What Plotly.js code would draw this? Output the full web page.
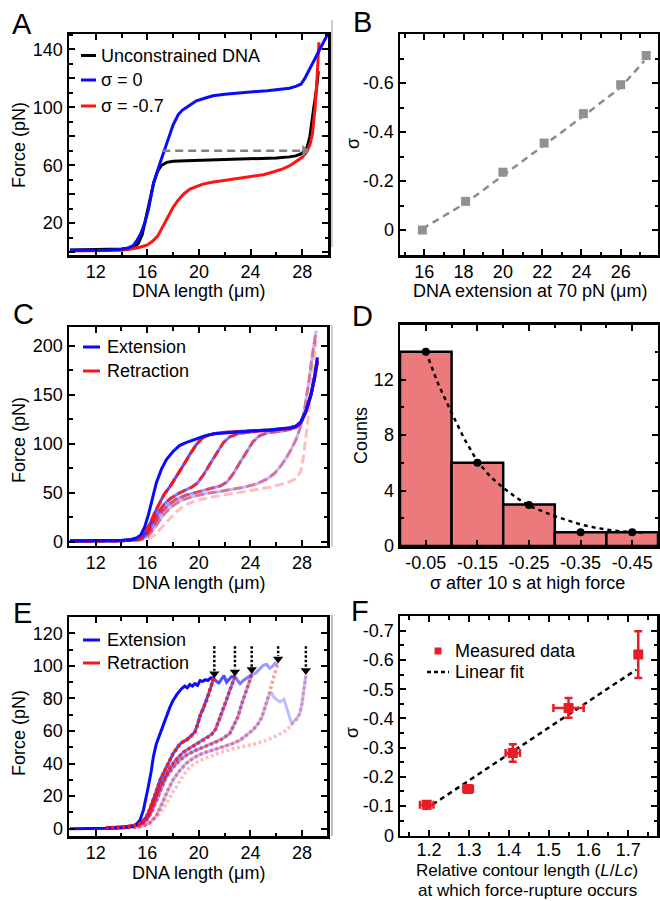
<!DOCTYPE html>
<html><head><meta charset="utf-8">
<script src="https://cdn.plot.ly/plotly-3.0.1.min.js"></script>
<style>html,body{margin:0;padding:0;background:#fff}#chart{width:660px;height:901px}</style>
</head><body><div id="chart"></div>
<script>
// ---------- Panel A data ----------
const aBlackX = [10, 11, 12, 13, 14, 14.6, 15.0, 15.3, 15.6, 15.9, 16.2, 16.5, 16.8, 17.1, 17.5, 18, 19, 20, 21, 22, 23, 24, 25, 26, 27, 27.5, 27.9, 28.2, 28.4, 28.6, 28.9, 29.1, 29.25];
const aBlackY = [1.5, 1.5, 1.8, 2, 2.2, 2.6, 3.5, 6, 12, 24, 37, 48, 56, 60, 62, 62.8, 63.2, 63.5, 63.7, 63.9, 64.1, 64.3, 64.6, 65, 65.8, 66.5, 67.8, 70, 73, 80, 100, 112, 125];
const aBlueX = [10, 11, 12, 13, 14, 14.5, 14.9, 15.2, 15.5, 15.8, 16.1, 16.47, 17, 17.5, 18.0, 18.4, 18.7, 19.2, 19.8, 20.5, 21.1, 22, 22.7, 23.5, 24.5, 25.3, 26.2, 27.0, 27.5, 27.9, 28.2, 28.6, 29.0, 29.5, 30.0];
const aBlueY = [1.2, 1.2, 1.3, 1.5, 2, 2.8, 4.5, 8, 13, 20, 30, 47.5, 62, 75, 88, 95, 98, 101, 104.5, 106.5, 108, 109, 109.7, 110.2, 111, 111.5, 112.3, 113.2, 114.5, 116, 120, 127, 134, 143, 151];
const aRedX = [10, 11, 12, 13, 14, 14.5, 15, 15.5, 16, 16.4, 16.8, 17.1, 17.4, 17.7, 18, 18.4, 18.8, 19.3, 19.8, 20.3, 21, 21.7, 22.5, 23.3, 24.2, 25, 25.8, 26.5, 27.1, 27.6, 28, 28.3, 28.6, 28.8, 29.0, 29.15, 29.3];
const aRedY = [0.8, 0.8, 0.9, 1, 1.3, 1.8, 2.5, 3.5, 5, 7.5, 11, 16, 22, 27, 31, 36, 40, 43.5, 45.5, 47, 48.3, 49.2, 50.2, 51.2, 52.3, 53.5, 55.5, 57.5, 60, 62.8, 65.5, 68.5, 74, 82, 100, 120, 145];
const aArrowX = [17.15, 27.9];
const aArrowY = [70, 70];
const aArrowHeadX = [28.2];
const aArrowHeadY = [70];

// ---------- Panel B data ----------
const bX = [15.9, 18.1, 20.0, 22.1, 24.1, 26.0, 27.3];
const bSigma = [0, -0.117, -0.236, -0.355, -0.475, -0.593, -0.712];
const bFitX = [15.9, 18.1, 20.0, 22.1, 24.1, 26.0, 27.2];
const bFitY = [-0.005, -0.11, -0.222, -0.345, -0.465, -0.582, -0.69];

// ---------- Panel C data (paths; retraction k overlaps extension k+1) ----------
const cPath1X = [10, 12, 14, 14.7, 15.2, 15.5, 15.8, 16.1, 16.4, 16.7, 17.1, 17.5, 18, 18.5, 19, 19.8, 20.5, 21.2, 22.4, 24, 25.5, 27, 27.5, 27.9, 28.3, 28.7, 29.0, 29.2];
const cPath1Y = [1, 1, 1.5, 2, 4, 7, 15, 28, 45, 60, 74, 84, 92, 98, 101, 105, 108, 110, 111.5, 113, 114, 116, 117.5, 122, 133, 150, 170, 188];
const cPath2X = [10, 12, 14, 14.8, 15.4, 15.8, 16.2, 16.6, 17, 17.3, 17.8, 18.3, 18.8, 19.3, 19.8, 20.3, 20.8, 21.5, 22.4, 24, 25.5, 27, 27.5, 27.9, 28.3, 28.7, 29.0, 29.2];
const cPath2Y = [0.5, 0.5, 1, 2, 4, 9, 18, 30, 41, 48, 57, 67, 78, 89, 99, 106, 109, 111, 112, 113, 114, 116, 117.5, 122, 133, 150, 168, 185];
const cPath3X = [10, 12, 14, 15, 15.6, 16.0, 16.4, 16.8, 17.3, 17.8, 18.4, 19, 19.5, 19.9, 20.4, 20.9, 21.4, 21.9, 22.4, 23, 24, 25.5, 27, 27.5, 27.9, 28.3, 28.7, 29.0, 29.2];
const cPath3Y = [0.5, 0.5, 1, 2, 4, 10, 19, 29, 38, 44, 49, 53, 56, 60, 69, 80, 91, 101, 107, 110, 112, 113.5, 115.5, 117, 121, 132, 150, 168, 185];
const cPath4X = [10, 12, 14, 15.2, 15.8, 16.2, 16.6, 17.1, 17.6, 18.2, 19, 20, 21, 21.7, 22.2, 22.7, 23.2, 23.7, 24.2, 24.7, 25.3, 26.5, 27.5, 27.9, 28.3, 28.7, 29.0, 29.2];
const cPath4Y = [0.5, 0.5, 1, 2, 5, 11, 20, 30, 37, 43, 47.5, 51, 54, 57, 61, 70, 81, 92, 102, 108, 111, 113, 116, 121, 132, 150, 168, 183];
const cPath5X = [10, 12, 14, 15.4, 16.0, 16.4, 16.8, 17.3, 17.9, 18.6, 19.5, 20.5, 21.5, 22.5, 23.5, 24.5, 25.3, 25.9, 26.4, 26.8, 27.2, 27.6, 27.9, 28.2, 28.5, 28.8, 29.1];
const cPath5Y = [0.5, 0.5, 1, 2, 5, 11, 19, 28, 36, 42, 46, 49, 51, 53, 55.5, 59, 64, 70, 78, 86, 95, 106, 118, 135, 160, 190, 215];
const cPath6X = [10, 12, 14, 15.5, 16.1, 16.6, 17.1, 17.6, 18.2, 18.9, 19.8, 21, 22.5, 24, 25.5, 26.5, 27.2, 27.6, 27.9, 28.1, 28.3, 28.5, 28.7, 28.9, 29.1];
const cPath6Y = [0.5, 0.5, 0.8, 1.5, 3, 7, 14, 22, 30, 37, 42, 45.5, 49, 52, 55.5, 59, 62, 65, 72, 85, 105, 128, 152, 180, 205];

// ---------- Panel D data ----------
const dSigma = [-0.05, -0.15, -0.25, -0.35, -0.45];
const dLabels = ['-0.05', '-0.15', '-0.25', '-0.35', '-0.45'];
const dCounts = [14, 6, 3, 1, 1];
const dPointY = [14, 6, 2.95, 1.0, 1.0];
const dFitX = [-0.05, -0.075, -0.1, -0.125, -0.15, -0.175, -0.2, -0.225, -0.25, -0.275, -0.3, -0.325, -0.35, -0.375, -0.4, -0.425, -0.45, -0.47];
const dFitY = [14, 11.6, 9.6, 7.7, 6.1, 5.0, 4.2, 3.5, 2.9, 2.5, 2.15, 1.85, 1.55, 1.35, 1.18, 1.07, 1.0, 0.97];

// ---------- Panel E data ----------
const eExt1X = [10, 11, 12, 13, 14, 14.5, 14.9, 15.2, 15.44, 15.7, 15.9, 16.08, 16.3, 16.47, 16.7, 16.99, 17.25, 17.5, 17.75, 18.0, 18.3, 18.67, 18.9, 19.1, 19.3, 19.5, 19.7, 19.9, 20.1, 20.3, 20.5, 20.7, 20.9, 21.15];
const eExt1Y = [0, 0, 0, 0.2, 0.5, 0.9, 1.5, 3, 5.3, 11.4, 18, 25.7, 35, 44, 52, 58.4, 64.5, 69.6, 74.5, 78.8, 82.5, 86, 87.5, 86.5, 88.5, 87.5, 89, 88, 91, 90.5, 91.5, 91, 92.5, 92.5];
const eRet1X = [21.15, 20.9, 20.6, 20.35, 20.1, 19.9, 19.7, 19.4, 19.05, 18.8, 18.54, 18.3, 18.0, 17.75, 17.5, 17.25, 17.0, 16.75, 16.47, 16.2, 15.95, 15.7, 15.44, 15.0, 14.4, 13.6, 12.8];
const eRet1Y = [92.5, 86, 79, 74, 69.5, 64, 59.5, 57, 54.5, 53.5, 52, 49.5, 46, 42, 38, 34, 30, 24, 17.6, 12, 7.5, 5, 3.3, 2, 1.2, 0.7, 0.4];
const eRet2X = [22.8, 22.6, 22.4, 22.15, 21.9, 21.6, 21.3, 21.0, 20.6, 20.2, 19.8, 19.3, 18.8, 18.3, 17.8, 17.4, 17.0, 16.75, 16.5, 16.3, 16.1, 15.85, 15.6, 15.2, 14.6, 13.8, 12.8];
const eRet2Y = [93.5, 89, 85, 79, 73, 67, 61, 58, 55.5, 53.8, 52, 49.5, 47, 43, 38, 32, 26, 21, 16, 12, 8, 5.5, 3.5, 2.2, 1.3, 0.7, 0.4];
const eRet3X = [24.1, 23.85, 23.6, 23.3, 23.05, 22.7, 22.4, 21.9, 21.4, 20.6, 19.8, 19.1, 18.5, 18.0, 17.5, 17.2, 16.9, 16.65, 16.4, 16.15, 15.9, 15.5, 15.0, 14.3, 13.5, 12.8];
const eRet3Y = [94.5, 89, 83, 76, 69, 63, 58.5, 55.5, 53.4, 50.8, 48.3, 45.5, 42, 37.5, 32, 27, 21, 16, 11, 7.5, 4.5, 2.8, 1.6, 0.9, 0.5, 0.3];
const eRet4X = [26.1, 25.95, 25.8, 25.6, 25.4, 25.15, 24.9, 24.6, 24.2, 23.7, 23.2, 22.6, 21.9, 21.1, 20.3, 19.6, 19.0, 18.5, 18.0, 17.6, 17.3, 17.0, 16.7, 16.4, 16.1, 15.7, 15.3, 14.6, 13.7, 12.8];
const eRet4Y = [100.5, 97, 93, 87, 81, 75, 68.7, 64.5, 60.6, 57.3, 54.4, 52.2, 50.3, 48.3, 46.3, 43.5, 40, 35.5, 30, 24, 18, 13, 8, 5.2, 3, 1.8, 1, 0.6, 0.4, 0.2];
const eRet5X = [28.3, 28.2, 28.1, 27.97, 27.7, 27.3, 26.8, 26.0, 25.26, 24.3, 23.5, 22.67, 21.4, 20.7, 20.1, 19.7, 19.3, 18.9, 18.54, 18.25, 18.0, 17.75, 17.5, 17.25, 17.0, 16.6, 16.2, 15.7, 15.0, 14.0, 12.8];
const eRet5Y = [94, 88, 82, 74.7, 68, 64.5, 60.4, 57, 54.3, 52, 50.5, 49.2, 46, 44, 42, 40, 38, 34, 28.8, 25.5, 22.7, 19, 15.5, 12.5, 9.4, 6, 3.3, 1.8, 0.9, 0.4, 0.2];
const eTail2X = [21.35, 21.55, 21.75, 21.95, 22.15, 22.35, 22.55, 22.8];
const eTail2Y = [90.5, 89.5, 92, 94, 90, 91.5, 93.5, 93.5];
const eTail3X = [23.0, 23.2, 23.45, 23.7, 23.9, 24.1];
const eTail3Y = [91, 89, 91, 92.5, 93.5, 94.5];
const eTail4X = [24.4, 24.7, 25.0, 25.25, 25.5, 25.7, 25.9, 26.1];
const eTail4Y = [95.5, 98, 100.3, 101, 98.5, 99.5, 101.5, 100.5];
const eTail5X = [25.6, 25.8, 26.0, 26.3, 26.6, 26.9, 27.2, 27.5, 27.8, 28.0, 28.15, 28.3];
const eTail5Y = [84, 81, 79.5, 78, 79.5, 72, 64.5, 67, 70, 77, 85, 94];
const eArrowX = [21.2, 22.8, 24.1, 26.15, 28.3];
const eArrowTop = [112, 112, 112, 112, 112];
const eArrowTip = [93, 94, 95.5, 102, 95];

// ---------- Panel F data ----------
const fRatio = [1.194, 1.298, 1.41, 1.55, 1.725];
const fSigma = [-0.104, -0.158, -0.282, -0.436, -0.619];
const fRatioErr = [0.017, 0.012, 0.018, 0.038, 0];
const fSigmaErr = [0.012, 0.01, 0.03, 0.034, 0.08];
const fFitX = [1.19, 1.72];
const fFitY = [-0.088, -0.567];

// ---------- helpers ----------
const W = 660, H = 901;
const PX = v => v / W;
const PY = v => 1 - v / H;
const BLUE = 'rgb(10,10,255)';
const RED = 'rgb(255,20,20)';
const FONT = 'Liberation Sans, Arial, Helvetica, sans-serif';

function axis(dom, range, extra, isY) {
  const base = {
    domain: isY ? [PY(dom[1]), PY(dom[0])] : [PX(dom[0]), PX(dom[1])],
    range: range, autorange: false,
    showline: true, linewidth: 2.5, linecolor: '#000', mirror: 'allticks',
    ticks: 'inside', ticklen: 6, tickwidth: 2, tickcolor: '#000',
    showgrid: false, zeroline: false, fixedrange: true,
    tickfont: {family: FONT, size: 18, color: '#000'}
  };
  if (!isY) base.ticklabelstandoff = -1;
  const out = Object.assign(base, extra);
  out.minor = Object.assign({ticks: 'inside', ticklen: 3.5, tickwidth: 2, tickcolor: '#000', showgrid: false}, extra.minor || {});
  return out;
}
function rev(a) { return a.slice().reverse(); }

const traces = [];
function line(x, y, xa, ya, color, width, dash, opacity) {
  traces.push({type: 'scatter', mode: 'lines', x: x, y: y, xaxis: xa, yaxis: ya,
    line: {color: color, width: width, dash: dash || 'solid'}, opacity: opacity == null ? 1 : opacity,
    hoverinfo: 'skip', showlegend: false});
}

// Panel A
line(aBlackX, aBlackY, 'x', 'y', '#000', 3);
line(aRedX, aRedY, 'x', 'y', RED, 3);
line(aBlueX, aBlueY, 'x', 'y', BLUE, 3);
traces.push({type: 'scatter', mode: 'lines', x: aArrowX, y: aArrowY, xaxis: 'x', yaxis: 'y',
  line: {color: 'rgb(130,130,130)', width: 2.5, dash: '8px,5px'}, hoverinfo: 'skip', showlegend: false});
traces.push({type: 'scatter', mode: 'markers', x: aArrowHeadX, y: aArrowHeadY, xaxis: 'x', yaxis: 'y',
  marker: {symbol: 'triangle-right', size: 10, color: 'rgb(130,130,130)'}, hoverinfo: 'skip', showlegend: false});

// Panel B
traces.push({type: 'scatter', mode: 'lines', x: bFitX, y: bFitY, xaxis: 'x2', yaxis: 'y2',
  line: {color: 'rgb(140,140,140)', width: 2.5, dash: '7px,5px'}, hoverinfo: 'skip', showlegend: false});
traces.push({type: 'scatter', mode: 'markers', x: bX, y: bSigma, xaxis: 'x2', yaxis: 'y2',
  marker: {symbol: 'square', size: 9, color: 'rgb(145,145,145)'}, hoverinfo: 'skip', showlegend: false});

// Panel C
const cPaths = [[cPath1X, cPath1Y], [cPath2X, cPath2Y], [cPath3X, cPath3Y], [cPath4X, cPath4Y], [cPath5X, cPath5Y], [cPath6X, cPath6Y]];
const extOp = [1, 0.72, 0.55, 0.4, 0.27];
const retOp = [1, 0.78, 0.6, 0.42, 0.28];
for (let k = 4; k >= 0; k--) {
  if (k === 4) line(cPaths[5][0], cPaths[5][1], 'x3', 'y3', RED, 3, '9px,4px', retOp[4]);
  line(cPaths[k][0], cPaths[k][1], 'x3', 'y3', BLUE, 3, 'solid', extOp[k]);
  if (k >= 1) line(cPaths[k][0], cPaths[k][1], 'x3', 'y3', RED, 3, '9px,4px', retOp[k - 1]);
}

// Panel D
traces.push({type: 'bar', x: dSigma, y: dCounts, xaxis: 'x4', yaxis: 'y4', width: 0.1,
  marker: {color: 'rgb(236,122,124)', line: {color: '#000', width: 2.5}}, hoverinfo: 'skip', showlegend: false});
traces.push({type: 'scatter', mode: 'lines', x: dFitX, y: dFitY, xaxis: 'x4', yaxis: 'y4',
  line: {color: '#000', width: 2.5, dash: '4px,4px'}, hoverinfo: 'skip', showlegend: false});
traces.push({type: 'scatter', mode: 'markers', x: dSigma, y: dPointY, xaxis: 'x4', yaxis: 'y4',
  marker: {symbol: 'circle', size: 8, color: '#000'}, hoverinfo: 'skip', showlegend: false});

// Panel E
const eRets = [[eRet1X, eRet1Y], [eRet2X, eRet2Y], [eRet3X, eRet3Y], [eRet4X, eRet4Y], [eRet5X, eRet5Y]];
const eTails = [null, [eTail2X, eTail2Y], [eTail3X, eTail3Y], [eTail4X, eTail4Y], [eTail5X, eTail5Y]];
const eExts = [[eExt1X, eExt1Y]];
for (let k = 1; k < 5; k++) {
  let px = rev(eRets[k - 1][0]), py = rev(eRets[k - 1][1]);
  if (k === 4) { // last extension leaves the previous retraction before its top
    const n = px.findIndex(v => v >= 25.4);
    px = px.slice(0, n + 1); py = py.slice(0, n + 1);
  }
  eExts.push([px.concat(eTails[k][0]), py.concat(eTails[k][1])]);
}
const eExtOp = [1, 0.72, 0.55, 0.4, 0.27];
const eRetOp = [1, 0.8, 0.6, 0.42, 0.28];
for (let k = 4; k >= 0; k--) {
  line(eExts[k][0], eExts[k][1], 'x5', 'y5', BLUE, 3, 'solid', eExtOp[k]);
  line(eRets[k][0], eRets[k][1], 'x5', 'y5', RED, 3.5, '3px,2.5px', eRetOp[k]);
}
for (let i = 0; i < eArrowX.length; i++) {
  traces.push({type: 'scatter', mode: 'lines', x: [eArrowX[i], eArrowX[i]], y: [eArrowTop[i], eArrowTip[i] + 4],
    xaxis: 'x5', yaxis: 'y5', line: {color: '#000', width: 2.5, dash: '2.5px,2px'}, hoverinfo: 'skip', showlegend: false});
  traces.push({type: 'scatter', mode: 'markers', x: [eArrowX[i]], y: [eArrowTip[i] + 2.2],
    xaxis: 'x5', yaxis: 'y5', marker: {symbol: 'triangle-down', size: 9, color: '#000'}, hoverinfo: 'skip', showlegend: false});
}

// Panel F
traces.push({type: 'scatter', mode: 'lines', x: fFitX, y: fFitY, xaxis: 'x6', yaxis: 'y6',
  line: {color: '#000', width: 2.5, dash: '5px,4px'}, hoverinfo: 'skip', showlegend: false});
traces.push({type: 'scatter', mode: 'markers', x: fRatio, y: fSigma, xaxis: 'x6', yaxis: 'y6',
  marker: {symbol: 'square', size: 10, color: 'rgb(232,30,38)'},
  error_x: {type: 'data', array: fRatioErr, color: 'rgb(232,30,38)', thickness: 2.5, width: 4},
  error_y: {type: 'data', array: fSigmaErr, color: 'rgb(232,30,38)', thickness: 2.5, width: 4},
  hoverinfo: 'skip', showlegend: false});

// ---------- annotations ----------
const ann = [];
function txt(text, x, y, opts) {
  ann.push(Object.assign({text: text, x: PX(x), y: PY(y), xref: 'paper', yref: 'paper', showarrow: false,
    xanchor: 'center', yanchor: 'middle', borderpad: 0, font: {family: FONT, size: 18, color: '#000'}}, opts || {}));
}
// panel letters
[['A', 22, 24], ['B', 362, 22], ['C', 23, 314], ['D', 362, 316], ['E', 22, 613], ['F', 360, 611]].forEach(p =>
  txt(p[0], p[1], p[2], {font: {family: FONT, size: 29, color: '#000'}}));
// axis titles
txt('DNA length (μm)', 198.5, 291);
txt('Force (pN)', 19, 145, {textangle: -90});
txt('DNA extension at 70 pN (μm)', 530, 291);
txt('σ', 353, 143, {textangle: -90});
txt('DNA length (μm)', 198, 583);
txt('Force (pN)', 19, 440, {textangle: -90});
txt('σ after 10 s at high force', 527, 583);
txt('Counts', 361, 436, {textangle: -90});
txt('DNA length (μm)', 198, 873);
txt('Force (pN)', 19, 733, {textangle: -90});
txt('Relative contour length (<i>L</i>/<i>Lc</i>)', 527, 881, {yanchor: 'bottom', font: {family: FONT, size: 17, color: '#000'}});
txt('at which force-rupture occurs', 527, 901, {yanchor: 'bottom', font: {family: FONT, size: 17, color: '#000'}});
txt('σ', 352, 733, {textangle: -90});
// legends text
txt('Unconstrained DNA', 100, 55.5, {xanchor: 'left'});
txt('σ = 0', 100, 80, {xanchor: 'left'});
txt('σ = -0.7', 100, 106, {xanchor: 'left'});
txt('Extension', 106, 347, {xanchor: 'left'});
txt('Retraction', 106, 371, {xanchor: 'left'});
txt('Extension', 106, 640, {xanchor: 'left'});
txt('Retraction', 106, 663, {xanchor: 'left'});
txt('Measured data', 454, 651, {xanchor: 'left'});
txt('Linear fit', 454, 672, {xanchor: 'left'});

// ---------- shapes (legend samples, separators) ----------
const shapes = [];
function seg(x0, y0, x1, y1, color, width, dash) {
  shapes.push({type: 'line', xref: 'paper', yref: 'paper', x0: PX(x0), y0: PY(y0), x1: PX(x1), y1: PY(y1),
    line: {color: color, width: width, dash: dash || 'solid'}});
}
seg(81, 55.5, 96, 55.5, '#000', 3);
seg(81, 80, 96, 80, BLUE, 3);
seg(81, 106, 96, 106, RED, 3);
seg(83, 347, 100, 347, BLUE, 3);
seg(83, 371, 100, 371, RED, 3);
seg(83, 640, 100, 640, BLUE, 3);
seg(83, 663, 100, 663, RED, 3);
seg(427, 672, 449, 672, '#000', 2.5, '4px,3px');
shapes.push({type: 'rect', xref: 'paper', yref: 'paper', x0: PX(434.5), x1: PX(441.5), y0: PY(654.5), y1: PY(647.5),
  fillcolor: 'rgb(232,30,38)', line: {width: 0}});
seg(332, 20, 332, 247, 'rgb(190,190,190)', 1.5);
seg(332, 325, 332, 547, 'rgb(190,190,190)', 1.5);
seg(332, 615, 332, 836, 'rgb(170,170,170)', 1.5);

const layout = {
  width: W, height: H, margin: {l: 0, r: 0, t: 0, b: 0},
  paper_bgcolor: '#fff', plot_bgcolor: '#fff', showlegend: false,
  font: {family: FONT, size: 18, color: '#000'},
  xaxis: axis([69, 328], [9.93, 30.0], {anchor: 'y', tickmode: 'linear', tick0: 12, dtick: 4, minor: {tick0: 10, dtick: 2}}),
  yaxis: axis([34, 255], [-2, 150.7], {anchor: 'x', tickmode: 'linear', tick0: 20, dtick: 20, ticklabelstep: 2, minor: {tick0: 0, dtick: 10}}, true),
  xaxis2: axis([400, 658], [14.76, 27.9], {anchor: 'y2', tickmode: 'linear', tick0: 16, dtick: 2, minor: {tick0: 16, dtick: 1}}),
  yaxis2: axis([34, 255], [0.102, -0.80], {anchor: 'x2', tickmode: 'array', tickvals: [0, -0.2, -0.4, -0.6], ticktext: ['0', '-0.2', '-0.4', '-0.6'], minor: {tickmode: 'linear', tick0: 0, dtick: 0.1}}, true),
  xaxis3: axis([69, 327], [9.93, 29.94], {anchor: 'y3', tickmode: 'linear', tick0: 12, dtick: 4, minor: {tick0: 10, dtick: 2}}),
  yaxis3: axis([327, 545.5], [-3.9, 219], {anchor: 'x3', tickmode: 'linear', tick0: 0, dtick: 50, minor: {tick0: 0, dtick: 25}}, true),
  xaxis4: axis([400, 658], [0, -0.5], {anchor: 'y4', tickmode: 'array', tickvals: dSigma, ticktext: dLabels, minor: {tickmode: 'linear', tick0: 0, dtick: 0.05}}),
  yaxis4: axis([324.5, 546], [0, 15.97], {anchor: 'x4', tickmode: 'linear', tick0: 0, dtick: 4, minor: {tick0: 0, dtick: 2}}, true),
  xaxis5: axis([69, 327], [9.93, 29.94], {anchor: 'y5', tickmode: 'linear', tick0: 12, dtick: 4, minor: {tick0: 10, dtick: 2}}),
  yaxis5: axis([617, 836], [-4.5, 130], {anchor: 'x5', tickmode: 'linear', tick0: 0, dtick: 20, minor: {tick0: 0, dtick: 10}}, true),
  xaxis6: axis([400, 657], [1.127, 1.772], {anchor: 'y6', tickmode: 'linear', tick0: 1.2, dtick: 0.1, ticklabelstandoff: -4, minor: {tick0: 1.15, dtick: 0.05}}),
  yaxis6: axis([616, 835.5], [0.001, -0.751], {anchor: 'x6', tickmode: 'array', tickvals: [0, -0.1, -0.2, -0.3, -0.4, -0.5, -0.6, -0.7], ticktext: ['0', '-0.1', '-0.2', '-0.3', '-0.4', '-0.5', '-0.6', '-0.7'], minor: {tickmode: 'linear', tick0: 0, dtick: 0.05}}, true),
  annotations: ann,
  shapes: shapes
};
Plotly.newPlot('chart', traces, layout, {staticPlot: true, displayModeBar: false});
</script></body></html>
